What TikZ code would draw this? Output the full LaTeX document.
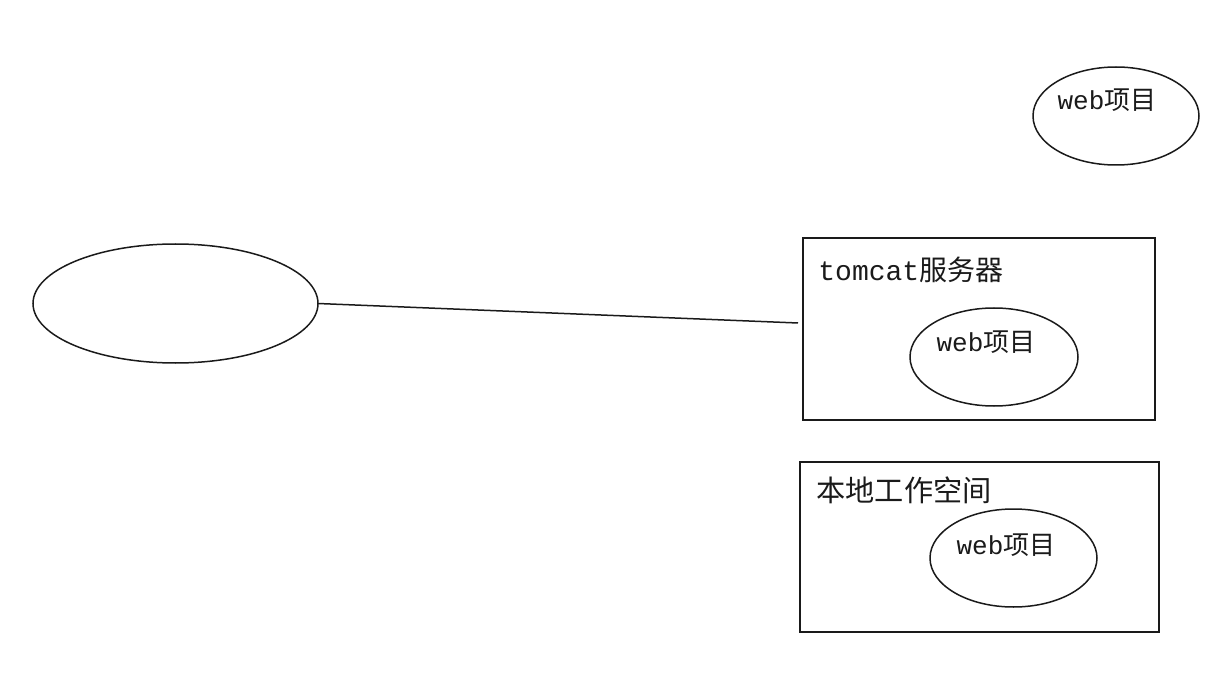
\documentclass[tikz,border=0pt]{standalone}
\usepackage{fontspec}
\setmainfont{Liberation Mono}
\newfontfamily\cjk{Noto Sans CJK SC}
\usepackage{tikz}
\usetikzlibrary{shapes.geometric,positioning}
\definecolor{SketchInk}{HTML}{1A1A1A}

\begin{document}
\begin{tikzpicture}[
  x=0.5pt,
  y=-0.5pt,
  every node/.style={text=SketchInk},
  oval/.style={draw=SketchInk, line width=0.75pt, ellipse, inner sep=0pt, outer sep=0pt},
  frame/.style={draw=SketchInk, line width=0.75pt, inner sep=0pt, outer sep=0pt},
  tag/.style={font=\fontsize{13pt}{15pt}\selectfont, inner sep=0pt},
  head/.style={font=\fontsize{14pt}{16pt}\selectfont, inner sep=0pt}
]
\useasboundingbox (0,0) rectangle (1210,700);

% client
\node[oval, minimum width=142.5pt, minimum height=59.5pt] (client) at (175.5,303.5) {};

% loose web project
\node[oval, minimum width=83pt, minimum height=49pt] (webtop) at (1116,116) {};
\node[tag] (webtoptxt) at (1107,100) {web{\cjk 项目}};

% tomcat server
\node[frame, minimum width=176pt, minimum height=91pt] (tomcat) at (979,329) {};
\node[head, anchor=west] (tomcattxt) at (818,270) {tomcat{\cjk 服务器}};
\node[oval, minimum width=84pt, minimum height=49pt] (webtomcat) at (994,357) {};
\node[tag] (webtomcattxt) at (986,342) {web{\cjk 项目}};

% local workspace
\node[frame, minimum width=179.5pt, minimum height=85pt] (local) at (979.5,547) {};
\node[head, anchor=west, font=\fontsize{14.6pt}{16pt}\selectfont] (localtxt) at (816,490) {\cjk 本地工作空间};
\node[oval, minimum width=83.5pt, minimum height=49pt] (weblocal) at (1013.5,558) {};
\node[tag] (weblocaltxt) at (1006,545) {web{\cjk 项目}};

\coordinate (reach) at (798,323);
\draw[SketchInk, line width=0.75pt] (client.east) -- (reach);
\end{tikzpicture}
\end{document}
